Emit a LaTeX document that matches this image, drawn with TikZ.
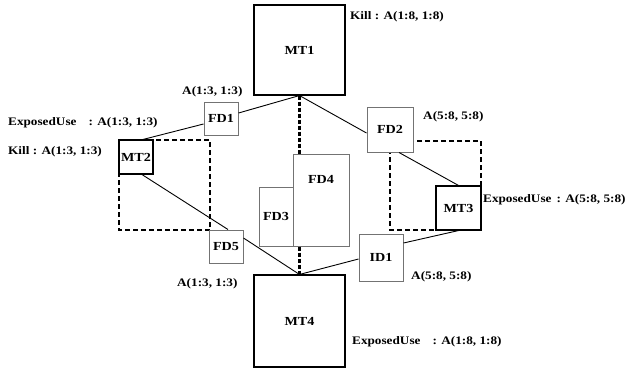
\documentclass[tikz,border=0pt]{standalone}
\usepackage{fontspec}
\setmainfont{Liberation Serif}[FakeStretch=1.15]
\begin{document}
\begin{tikzpicture}[x=1pt,y=-1pt,
  lbl/.style={font=\fontsize{11.5}{12}\selectfont\bfseries, inner sep=0pt, anchor=west},
  mtbox/.style={draw=black, line width=1.1pt, fill=white, inner sep=0pt, font=\fontsize{12.3}{13}\selectfont\bfseries},
  fdbox/.style={draw=black!55, line width=1pt, fill=white, inner sep=0pt, font=\fontsize{12.3}{13}\selectfont\bfseries},
  conn/.style={draw=black, line width=0.9pt},
  region/.style={draw=black, line width=1.1pt, dash pattern=on 5pt off 3pt},
  vdash/.style={draw=black, line width=2.6pt, dash pattern=on 4pt off 2pt}]
\useasboundingbox (0,0) rectangle (627,368);
% dashed regions
\draw[region] (119,140) rectangle (210,230);
\draw[region] (390,141) rectangle (481,230);
% boxes
\node[mtbox, minimum width=91pt, minimum height=90pt] (MT1) at (299.5,50) {MT1};
\node[mtbox, minimum width=91pt, minimum height=92pt] (MT4) at (299.5,321) {MT4};
\node[mtbox, minimum width=34pt, minimum height=34pt] (MT2) at (136,157) {MT2};
\node[mtbox, minimum width=45pt, minimum height=44pt] (MT3) at (458.5,208) {MT3};
\node[fdbox, minimum width=34pt, minimum height=33pt] (FD1) at (221,118.5) {FD1};
\node[fdbox, minimum width=46pt, minimum height=45pt] (FD2) at (390,129.5) {FD2};
\node[fdbox, minimum width=34pt, minimum height=33pt] (FD5) at (226,246.5) {FD5};
\node[fdbox, minimum width=44pt, minimum height=47pt] (ID1) at (381,257.5) {ID1};
\node[fdbox, minimum width=34pt, minimum height=59pt] (FD3) at (276,216.5) {FD3};
\node[fdbox, minimum width=56pt, minimum height=92pt] (FD4) at (321,200) {};
\node[font=\fontsize{12.3}{13}\selectfont\bfseries] (FD4t) at (321,179) {FD4};
% connectors
\draw[conn] ([xshift=7pt]MT2.north) -- ([yshift=-5.5pt]FD1.west);
\draw[conn] ([yshift=5.5pt]FD1.east) -- (MT1.south);
\draw[conn] (MT1.south) -- ([yshift=-3.5pt]FD2.west);
\draw[conn] ([xshift=9pt]FD2.south) -- (MT3.north);
\draw[conn] (MT3.south) -- ([yshift=14.5pt]ID1.east);
\draw[conn] ([yshift=-1.5pt]ID1.west) -- (MT4.north);
\draw[conn] ([xshift=6pt]MT2.south) -- ([xshift=2pt]FD5.north);
\draw[conn] ([yshift=8.5pt]FD5.east) -- (MT4.north);
\draw[vdash] (MT1.south) -- (MT1.south |- FD4.north);
\draw[vdash] (MT4.north |- FD3.south) -- (MT4.north);
% labels
\node[lbl] (l1) at (350,17) {Kill : A(1:8, 1:8)};
\node[lbl] (l2) at (182,92) {A(1:3, 1:3)};
\node[lbl] (l3) at (8,123) {ExposedUse\hspace{12pt}: A(1:3, 1:3)};
\node[lbl] (l4) at (8,152) {Kill : A(1:3, 1:3)};
\node[lbl] (l5) at (423,117) {A(5:8, 5:8)};
\node[lbl] (l6) at (483,200) {ExposedUse\hspace{5pt}: A(5:8, 5:8)};
\node[lbl] (l7) at (177,284) {A(1:3, 1:3)};
\node[lbl] (l8) at (411,277) {A(5:8, 5:8)};
\node[lbl] (l9) at (352,342) {ExposedUse\hspace{12pt}: A(1:8, 1:8)};
\end{tikzpicture}
\end{document}
